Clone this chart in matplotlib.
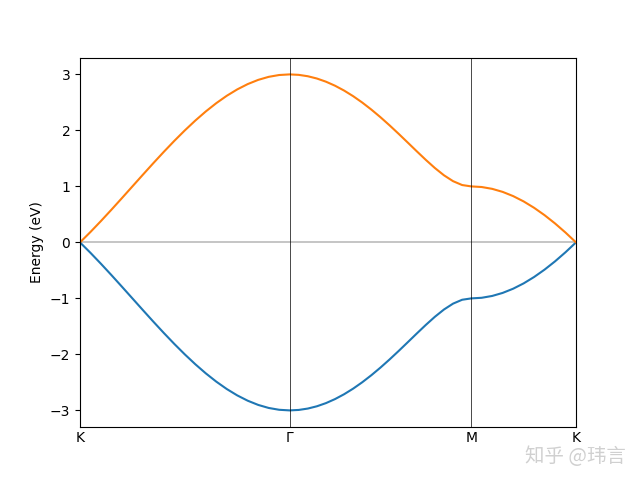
import numpy as np
import matplotlib
matplotlib.use('Agg')
import matplotlib.pyplot as plt

# high-symmetry points and path distances
kLabels = ['K', 'Γ', 'M', 'K']
kNodes = [0.0, 4.189, 7.817, 9.911]

# upper band energies (eV) along each segment
bandKG = [0.0, 0.1865, 0.382, 0.5842, 0.791, 1.0, 1.209, 1.4158, 1.618, 1.8135, 2.0,
          2.1756, 2.3383, 2.4863, 2.618, 2.732, 2.827, 2.9021, 2.9563, 2.989, 3.0]
bandGM = [3.0, 2.9918, 2.9672, 2.9265, 2.8699, 2.7979, 2.7113, 2.6108, 2.4972, 2.3718, 2.2361,
          2.0915, 1.9401, 1.7844, 1.6275, 1.4736, 1.3281, 1.1983, 1.0935, 1.0243, 1.0]
bandMK = [1.0, 0.989, 0.9563, 0.9021, 0.8271, 0.7321, 0.618, 0.4863, 0.3383, 0.1756, 0.0]

upper = np.array(bandKG + bandGM[1:] + bandMK[1:])
lower = -upper

kPath = np.concatenate([
    np.linspace(kNodes[0], kNodes[1], len(bandKG)),
    np.linspace(kNodes[1], kNodes[2], len(bandGM))[1:],
    np.linspace(kNodes[2], kNodes[3], len(bandMK))[1:],
])

fig, ax = plt.subplots(figsize=(6.4, 4.8), dpi=100)
ax.plot(kPath, lower, color='#1f77b4', lw=1.5)
ax.plot(kPath, upper, color='#ff7f0e', lw=1.5)
ax.axhline(0, color='#bbbbbb', lw=1.2, zorder=0)
for x in kNodes[1:-1]:
    ax.axvline(x, color='black', lw=0.5)

ax.set_xlim(kNodes[0], kNodes[-1])
ax.set_xticks(kNodes)
ax.set_xticklabels(kLabels)
ax.tick_params(axis='x', length=0, pad=3)
ax.set_ylabel('Energy (eV)')

fig.text(0.82, 0.048, '知乎 @玮言', color='#d0d0d0', fontsize=14, va='center',
         family=['Noto Sans CJK SC', 'DejaVu Sans'])

fig.savefig('out.png')
